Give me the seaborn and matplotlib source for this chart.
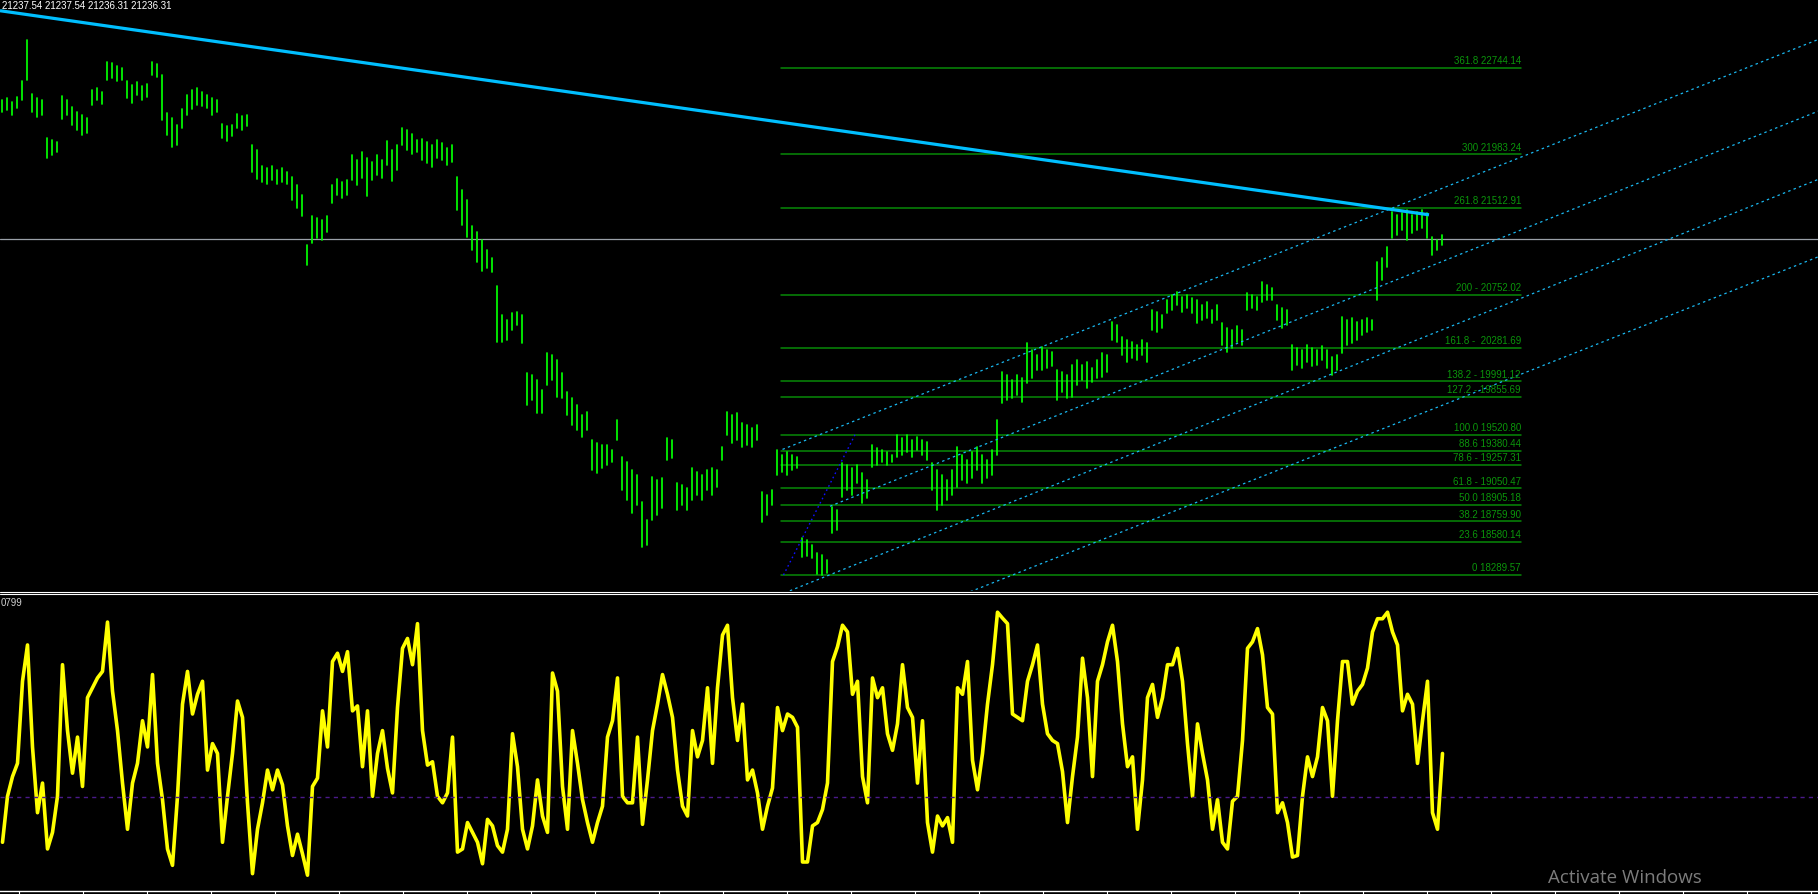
import numpy as np
import pandas as pd
import matplotlib
matplotlib.use("Agg")
import matplotlib.pyplot as plt
import seaborn as sns
from matplotlib.lines import Line2D

# ---------------- data ----------------
header_text = "21237.54 21237.54 21236.31 21236.31"
osc_label = "0799"

bar_high = [
    22460, 22478, 22442, 22487, 22627, 22987, 22513, 22478, 22460, 22127,
    22109, 22091, 22495, 22460, 22398, 22354, 22328, 22302, 22548, 22566,
    22530, 22793, 22785, 22758, 22741, 22627, 22592, 22618, 22583, 22601,
    22793, 22776, 22679, 22346, 22302, 22240, 22379, 22504, 22548, 22566,
    22530, 22504, 22478, 22460, 22249, 22231, 22240, 22337, 22319, 22328,
    22065, 22021, 21880, 21863, 21880, 21845, 21863, 21827, 21784, 21714,
    21626, 21187, 21441, 21424, 21406, 21441, 21714, 21766, 21740, 21758,
    21977, 21933, 22003, 21951, 21916, 21977, 21933, 22100, 22021, 22065,
    22214, 22197, 22162, 22109, 22118, 22091, 22065, 22109, 22083, 22039,
    22065, 21784, 21670, 21582, 21354, 21301, 21231, 21143, 21072, 20827,
    20572, 20528, 20590, 20599, 20572, 20063, 20045, 20002, 19914, 20239,
    20221, 20177, 20063, 19896, 19844, 19782, 19694, 19720, 19475, 19449,
    19431, 19431, 19387, 19650, 19326, 19282, 19211, 19168, 18930, 18772,
    19150, 19124, 19141, 19493, 19475, 19097, 19080, 19054, 19229, 19194,
    19168, 19211, 19229, 19211, 19414, 19720, 19694, 19712, 19624, 19606,
    19580, 19606, 19018, 18992, 19036, 19387, 19343, 19370, 19343, 19326,
    18614, 18597, 18553, 18483, 18465, 18421, 18886, 18860, 19273, 19255,
    19229, 19255, 19185, 19124, 19431, 19405, 19387, 19370, 19343, 19519,
    19493, 19519, 19475, 19501, 19475, 19457, 19273, 19211, 19168, 19124,
    19211, 19414, 19343, 19299, 19370, 19414, 19343, 19299, 19387, 19650,
    20072, 20045, 20002, 20045, 20019, 20326, 20265, 20221, 20291, 20265,
    20247, 20089, 20072, 20045, 20133, 20177, 20133, 20160, 20107, 20177,
    20239, 20221, 20511, 20484, 20379, 20353, 20335, 20309, 20353, 20326,
    20616, 20599, 20572, 20704, 20748, 20774, 20730, 20748, 20721, 20704,
    20660, 20686, 20616, 20660, 20502, 20458, 20441, 20476, 20441, 20765,
    20748, 20730, 20862, 20836, 20809, 20660, 20634, 20616, 20309, 20283,
    20265, 20309, 20283, 20265, 20300, 20265, 20203, 20221, 20555, 20528,
    20546, 20511, 20528, 20546, 20528, 21037, 21072, 21169, 21476, 21450,
    21467, 21494, 21450, 21476, 21494, 21467, 21257, 21231, 21275,
]
bar_low = [
    22355, 22372, 22328, 22390, 22460, 22636, 22354, 22310, 22328, 21951,
    21977, 22003, 22293, 22328, 22240, 22197, 22153, 22171, 22416, 22460,
    22425, 22636, 22653, 22627, 22636, 22478, 22434, 22504, 22460, 22487,
    22679, 22662, 22284, 22153, 22047, 22065, 22214, 22328, 22381, 22416,
    22407, 22390, 22328, 22354, 22127, 22100, 22144, 22214, 22197, 22231,
    21827, 21766, 21740, 21723, 21758, 21723, 21740, 21723, 21582, 21512,
    21441, 21011, 21205, 21249, 21231, 21301, 21556, 21626, 21600, 21626,
    21758, 21714, 21775, 21617, 21758, 21801, 21775, 21889, 21749, 21845,
    22065, 22021, 21986, 22003, 21933, 21907, 21872, 21951, 21933, 21889,
    21916, 21494, 21363, 21257, 21143, 21037, 20958, 20985, 20950, 20335,
    20335, 20353, 20441, 20484, 20326, 19782, 19826, 19712, 19712, 19958,
    20002, 19852, 19844, 19694, 19606, 19563, 19501, 19563, 19211, 19185,
    19229, 19255, 19282, 19475, 19036, 18948, 18834, 18904, 18535, 18553,
    18772, 18816, 18878, 19299, 19317, 18860, 18904, 18860, 18948, 18992,
    18948, 19036, 18992, 19062, 19299, 19519, 19449, 19475, 19414, 19431,
    19414, 19475, 18755, 18816, 18904, 19168, 19194, 19168, 19211, 19229,
    18447, 18456, 18439, 18295, 18290, 18307, 18658, 18685, 18974, 19036,
    18992, 19097, 18922, 18966, 19238, 19255, 19282, 19255, 19282, 19326,
    19343, 19370, 19326, 19387, 19343, 19299, 19036, 18860, 18904, 18948,
    18992, 19062, 19124, 19097, 19141, 19211, 19097, 19141, 19168, 19343,
    19800, 19826, 19844, 19870, 19808, 19975, 20019, 20089, 20089, 20107,
    20124, 19826, 19896, 19844, 19852, 19958, 20002, 19931, 19984, 20019,
    20028, 20072, 20353, 20335, 20221, 20160, 20195, 20177, 20221, 20160,
    20441, 20423, 20458, 20590, 20616, 20660, 20599, 20634, 20590, 20502,
    20528, 20546, 20502, 20528, 20309, 20247, 20283, 20335, 20309, 20616,
    20634, 20616, 20686, 20704, 20704, 20528, 20458, 20484, 20089, 20133,
    20107, 20160, 20124, 20133, 20177, 20107, 20045, 20089, 20239, 20309,
    20326, 20353, 20397, 20423, 20441, 20704, 20880, 20994, 21249, 21275,
    21319, 21231, 21292, 21319, 21336, 21249, 21099, 21143, 21187,
]
osc_values = [
    -22.8, 0.5, 10.5, 17.2, 58.8, 77.2, 25.5, -7.8, 7.2, -26.2,
    -17.8, 0.5, 67.2, 33.8, 12.2, 30.5, 5.5, 50.5, 55.5, 60.5,
    63.8, 88.8, 53.8, 33.8, 7.2, -16.2, 7.2, 17.2, 38.8, 25.5,
    62.2, 17.2, -1.2, -26.2, -34.5, 0.5, 47.2, 63.8, 42.2, 52.2,
    58.8, 13.8, 27.2, 22.2, -22.8, 0.5, 22.2, 48.8, 40.5, -2.8,
    -38.7, -16.2, -2.8, 13.8, 3.8, 13.8, 6.3, -14.5, -29.5, -18.7,
    -28.7, -39.5, 5.5, 9.7, 43.8, 25.5, 68.8, 73.0, 63.8, 73.8,
    43.8, 46.3, 15.5, 43.8, 0.5, 22.2, 33.8, 14.7, 2.2, 45.5,
    75.5, 80.5, 67.2, 88.0, 33.8, 16.3, 18.0, 0.5, -2.8, 2.2,
    30.5, -27.8, -26.2, -12.8, -17.8, -22.8, -33.7, -11.2, -14.5, -24.5,
    -27.8, -16.2, 32.2, 15.5, -16.2, -26.2, -14.5, 8.8, -9.5, -17.8,
    63.0, 53.8, 5.5, -16.2, 33.8, 17.2, -1.2, -12.8, -22.8, -12.8,
    -4.5, 30.5, 38.8, 60.5, 0.5, -2.8, -2.8, 30.5, -13.7, 8.8,
    33.8, 47.2, 62.2, 52.2, 40.5, 13.8, -4.5, -9.5, 33.8, 20.5,
    28.8, 55.5, 17.2, 55.5, 82.2, 87.2, 50.5, 28.8, 47.2, 8.8,
    13.8, 2.2, -16.2, -4.5, 4.7, 45.5, 33.8, 42.2, 40.5, 35.5,
    -32.8, -32.8, -14.5, -12.8, -6.2, 7.2, 68.8, 76.3, 87.2, 83.8,
    52.2, 58.8, 10.5, -2.8, 60.5, 50.5, 55.5, 32.2, 23.8, 37.2,
    67.2, 45.5, 40.5, 7.2, 38.8, -12.8, -27.8, -9.5, -14.5, -10.3,
    -22.8, 55.5, 52.2, 68.8, 18.8, 3.8, 22.2, 47.2, 67.2, 93.8,
    90.8, 88.0, 42.2, 40.5, 38.8, 58.8, 67.2, 77.2, 47.2, 32.2,
    28.8, 27.2, 13.0, -12.8, 10.5, 30.5, 70.5, 50.5, 10.5, 58.8,
    67.2, 78.8, 87.2, 68.8, 37.2, 15.5, 20.5, -16.2, 8.8, 50.5,
    57.2, 40.5, 50.5, 67.2, 67.2, 75.5, 58.8, 27.2, 0.5, 37.2,
    22.2, 8.8, -16.2, -1.2, -22.8, -26.2, -2.0, 0.5, 28.8, 75.5,
    78.8, 85.5, 72.2, 45.5, 42.2, -7.8, -2.8, -12.8, -30.3, -29.5,
    0.5, 20.5, 10.5, 20.5, 45.5, 38.8, 0.5, 38.8, 68.8, 68.8,
    47.2, 53.8, 57.2, 65.5, 83.8, 90.5, 90.5, 93.8, 83.8, 77.2,
    43.8, 52.2, 47.2, 17.2, 38.8, 58.8, -7.8, -16.2, 22.2,
]
osc_level = 0.0

fib_prices = [22744.14, 21983.24, 21512.91, 20752.02, 20281.69, 19991.12,
              19855.69, 19520.80, 19380.44, 19257.31, 19050.47, 18905.18,
              18759.90, 18580.14, 18289.57]
fib_labels = ["361.8 22744.14", "300 21983.24", "261.8 21512.91",
              "200 - 20752.02", "161.8 -  20281.69", "138.2 - 19991.12",
              "127.2 - 19855.69", "100.0 19520.80", "88.6 19380.44",
              "78.6 - 19257.31", "61.8 - 19050.47", "50.0 18905.18",
              "38.2 18759.90", "23.6 18580.14", "0 18289.57"]
fib_span = [155.7, 303.7]           # bar index where fib lines start / end
fib_base_x = [156.2, 170.5]
fib_base_y = [18289.57, 19520.80]

trend_x = [-0.5, 285.3]
trend_y = [23244, 21452]

bid_price = 21236.31

channel_anchor_x = [199.5, 279.5]
channel_prices = [[20148, 21538], [19490, 20894], [18889, 20294], [18246, 19633]]
channel_start = [156.0, 165.5, 150.0, 185.0]

watermark = "Activate Windows"

# ---------------- style ----------------
sns.set_theme(style="dark", rc={"axes.facecolor": "black", "figure.facecolor": "black",
                                "axes.grid": False})
plt.rcParams["font.family"] = ["Liberation Sans", "DejaVu Sans"]

W, H = 1818, 894
fig = plt.figure(figsize=(W / 100, H / 100), dpi=100)
fig.patch.set_facecolor("black")

ax = fig.add_axes([0, 303 / H, 1, 591 / H])
ax2 = fig.add_axes([0, 3 / H, 1, 292 / H])
for a in (ax, ax2):
    a.set_facecolor("black")
    for s in a.spines.values():
        s.set_visible(False)

x_lim = (-0.5, 363.1)

# ---------------- main price panel ----------------
idx = np.arange(len(bar_high))
bars = pd.DataFrame({
    "bar": np.repeat(idx, 2),
    "price": np.column_stack([bar_low, bar_high]).ravel(),
})
sns.lineplot(data=bars, x="bar", y="price", units="bar", estimator=None,
             color="#00ff00", lw=1.25, ax=ax, legend=False, sort=False)

# fibonacci levels
for price, lab in zip(fib_prices, fib_labels):
    ax.plot(fib_span, [price, price], color="#078a07", lw=1.1, zorder=1)
    ax.annotate(lab, xy=(fib_span[1], price), xytext=(0, 1.2),
                textcoords="offset points", ha="right", va="bottom",
                color="#0b950b", fontsize=7.0)
ax.plot(fib_base_x, fib_base_y, color="#1010ff", lw=1.0, ls=(0, (1.2, 2.2)))

# equidistant channel (dotted)
for (p0, p1), xs in zip(channel_prices, channel_start):
    slope = (p1 - p0) / (channel_anchor_x[1] - channel_anchor_x[0])
    xe = x_lim[1] + 2
    ax.plot([xs, xe], [p0 + slope * (xs - channel_anchor_x[0]),
                       p0 + slope * (xe - channel_anchor_x[0])],
            color="#1ab8f0", lw=0.9, ls=(0, (2.0, 2.6)))

# bid line and trend line
ax.axhline(bid_price, color="#9aa0a8", lw=0.9, zorder=1)
ax.plot(trend_x, trend_y, color="#00bfff", lw=2.3, solid_capstyle="butt")

ax.set_xlim(*x_lim)
ax.set_ylim(18149, 23338)
ax.set_xticks([])
ax.set_yticks([])
ax.set_xlabel("")
ax.set_ylabel("")

# ---------------- oscillator panel ----------------
sns.lineplot(x=idx, y=osc_values, color="#ffff00", lw=2.6, ax=ax2)
ax2.axhline(osc_level, color="#4b1a8a", lw=1.0, ls=(0, (3, 3)))
ax2.set_xlim(*x_lim)
ax2.set_ylim(-47.5, 100.5)
ax2.spines["bottom"].set_visible(True)
ax2.spines["bottom"].set_color("white")
ax2.spines["bottom"].set_linewidth(1.0)
ax2.set_xticks(np.arange(3.28, x_lim[1], 12.8))
ax2.tick_params(axis="x", direction="out", length=3, width=0.8, color="white",
                labelbottom=False, bottom=True)
ax2.set_yticks([])
ax2.set_xlabel("")
ax2.set_ylabel("")

# panel separator (double white line)
for yp in (591.5, 593.5):
    fig.add_artist(Line2D([0, 1], [1 - yp / H] * 2, color="white", lw=0.8))

# texts
fig.text(2 / W, 1 - 9.0 / H, header_text, color="white", fontsize=7.0,
         ha="left", va="baseline")
fig.text(1 / W, 1 - 606 / H, osc_label, color="#d0d0d0", fontsize=7.0,
         ha="left", va="baseline")
fig.text(1548 / W, 1 - 883 / H, watermark, color="#7c7c7c", fontsize=13.5,
         ha="left", va="baseline", family=["Open Sans", "DejaVu Sans"])

fig.savefig("out.png", dpi=100, facecolor="black")
